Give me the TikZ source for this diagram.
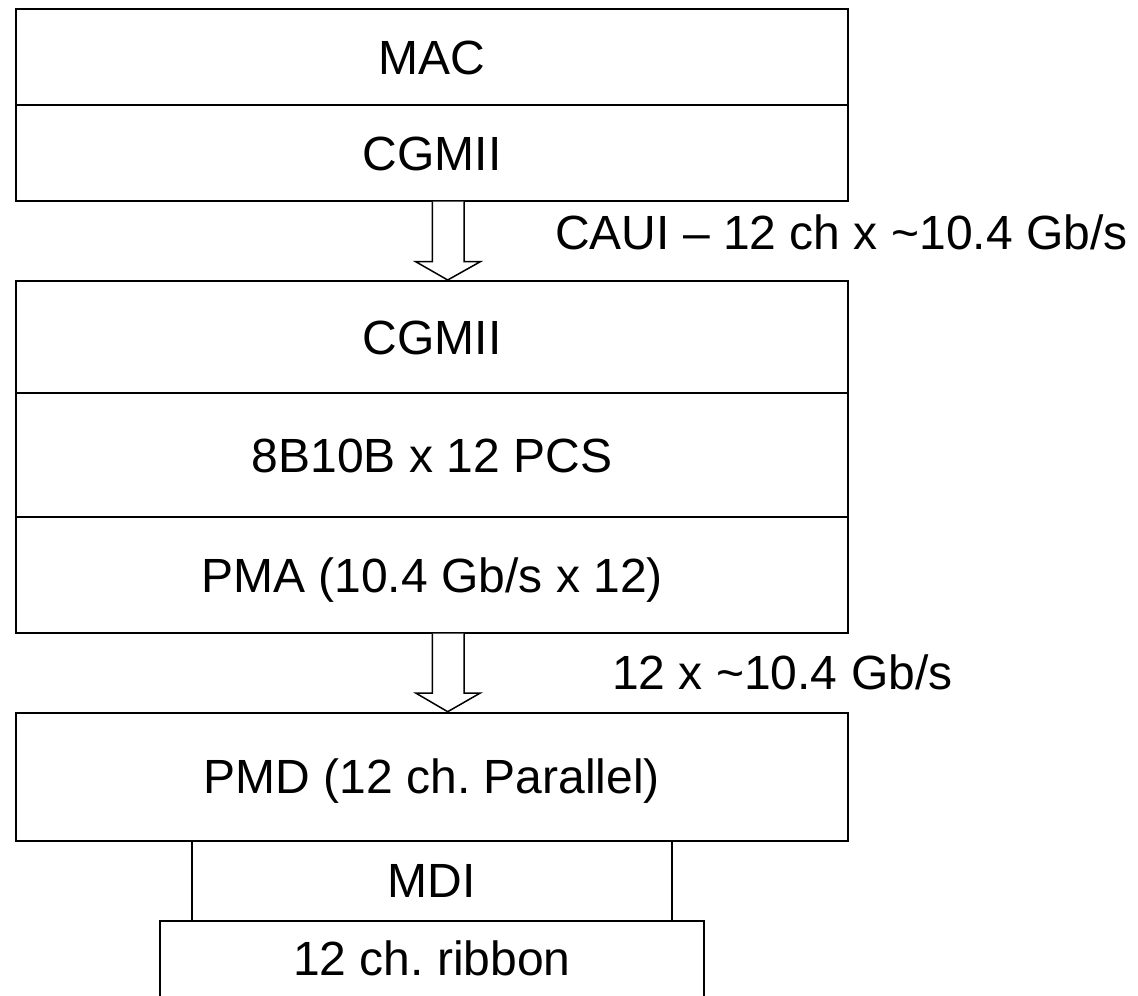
\documentclass[tikz,border=0pt]{standalone}
\usepackage{fontspec}
\setmainfont{Liberation Sans}
\frenchspacing
\begin{document}
\begin{tikzpicture}[x=1pt,y=-1pt,
  layer/.style={draw=black, line width=2pt, inner sep=0pt, minimum width=832pt,
    text height=34.4pt, text depth=0pt},
  hollow/.style={draw=black, line width=1.5pt, fill=white, line join=miter},
  lbl/.style={inner sep=0pt, anchor=base west},
  every node/.append style={font=\fontsize{48}{56}\selectfont}]
\useasboundingbox (0,0) rectangle (1138,996);
% top stack
\node[layer, minimum height=96pt] (mac) at (432,57) {MAC};
\node[layer, minimum height=95.7pt] (cgA) at (432,152.85) {CGMII};
% middle stack
\node[layer, minimum height=111.7pt] (cgB) at (432,336.85) {CGMII};
\node[layer, minimum height=124.3pt] (pcs) at (432,454.85) {8B10B x 12 PCS};
\node[layer, minimum height=115.7pt] (pma) at (432,574.85) {PMA (10.4 Gb/s x 12)};
% lower
\node[layer, minimum height=128pt] (pmd) at (432,776.7) {PMD (12 ch. Parallel)};
\node[layer, minimum width=480pt, minimum height=80pt] (mdi) at (431.7,880.7) {MDI};
\node[inner sep=0pt, minimum width=544pt, minimum height=75.3pt,
  text height=34.4pt, text depth=0pt] (rib) at (432,958.35) {12 ch. ribbon};
\draw[line width=2pt] (rib.south west) -- (rib.north west) -- (rib.north east) -- (rib.south east);
% arrows
\draw[hollow] ([xshift=0.3pt]cgA.south) -- ([xshift=0.3pt,yshift=-60pt]cgA.south)
  -- ([xshift=-16.3pt,yshift=-60pt]cgA.south) -- ([xshift=15.7pt]cgB.north)
  -- ([xshift=48.3pt,yshift=-60pt]cgA.south) -- ([xshift=32pt,yshift=-60pt]cgA.south)
  -- ([xshift=32pt]cgA.south);
\draw[hollow] ([xshift=0.3pt]pma.south) -- ([xshift=0.3pt,yshift=-59.3pt]pma.south)
  -- ([xshift=-16.3pt,yshift=-59.3pt]pma.south) -- ([xshift=15.7pt]pmd.north)
  -- ([xshift=48.3pt,yshift=-59.3pt]pma.south) -- ([xshift=32pt,yshift=-59.3pt]pma.south)
  -- ([xshift=32pt]pma.south);
% labels
\node[lbl] (caui) at (555,249.3) {CAUI -- 12 ch x \textasciitilde10.4 Gb/s};
\node[lbl] (l2) at (612,689) {12 x \textasciitilde10.4 Gb/s};
\end{tikzpicture}
\end{document}
